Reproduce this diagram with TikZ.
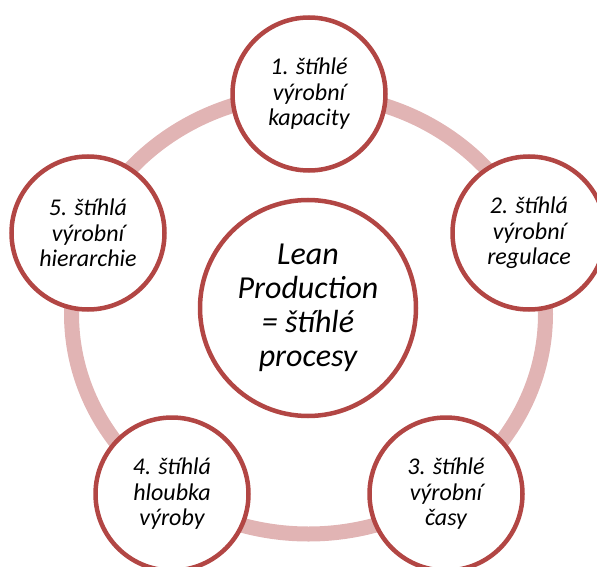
\documentclass[tikz,border=0pt]{standalone}
\usepackage{fontspec}
\setmainfont{Carlito}
\usetikzlibrary{positioning}
\definecolor{rimred}{RGB}{178,70,68}
\definecolor{ringpink}{RGB}{225,180,180}
\begin{document}
\begin{tikzpicture}[
  x=1pt,y=-1pt,
  mynode/.style={draw=rimred,line width=4.5pt,circle,align=center,fill=white,inner sep=0pt,minimum size=153pt,font=\itshape\fontsize{24}{25.5}\selectfont},
  hubnode/.style={mynode,minimum size=216pt,font=\itshape\fontsize{32}{34}\selectfont}
]
\useasboundingbox (0,0) rectangle (597,567);
\draw[ringpink,line width=15pt] (308.5,314) ellipse [x radius=237pt,y radius=220pt];
\node[hubnode] (C) at (308,308) {Lean\\Production\\= štíhlé\\procesy};
\node[mynode] (X1) at (309,94) {1. štíhlé\\výrobní\\kapacity};
\node[mynode] (X2) at (529,233) {2. štíhlá\\výrobní\\regulace};
\node[mynode] (X3) at (446,494) {3. štíhlé\\výrobní\\časy};
\node[mynode] (X4) at (172,494) {4. štíhlá\\hloubka\\výroby};
\node[mynode] (X5) at (88,233) {5. štíhlá\\výrobní\\hierarchie};
\end{tikzpicture}
\end{document}
